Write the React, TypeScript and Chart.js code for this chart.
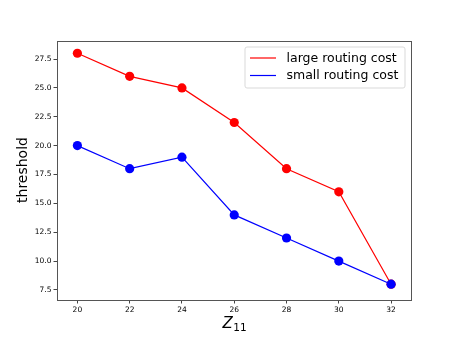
import React, { useEffect, useRef } from "react";
import { Chart, registerables } from "chart.js";

Chart.register(...registerables);

const zValues = [20, 22, 24, 26, 28, 30, 32];
const largeCost = [28, 26, 25, 22, 18, 16, 8];
const smallCost = [20, 18, 19, 14, 12, 10, 8];
const xTicks = [20, 22, 24, 26, 28, 30, 32];
const yTicks = [7.5, 10, 12.5, 15, 17.5, 20, 22.5, 25, 27.5];
const seriesNames = ["large routing cost", "small routing cost"];
const seriesColors = ["#ff0000", "#0000ff"];
const yTitle = "threshold";

const FONT = "'DejaVu Sans', sans-serif";

const decorPlugin = {
  id: "decor",
  afterDraw(chart: any) {
    const ctx = chart.ctx;
    const a = chart.chartArea;
    ctx.save();
    // axes box
    ctx.strokeStyle = "#555";
    ctx.lineWidth = 1;
    ctx.strokeRect(Math.round(a.left) + 0.5, Math.round(a.top) + 0.5, Math.round(a.right - a.left) - 1, Math.round(a.bottom - a.top));

    // legend
    const lx = 245, ly = 47, lw = 160, lh = 41;
    ctx.beginPath();
    const r = 2;
    ctx.moveTo(lx + r, ly);
    ctx.lineTo(lx + lw - r, ly);
    ctx.quadraticCurveTo(lx + lw, ly, lx + lw, ly + r);
    ctx.lineTo(lx + lw, ly + lh - r);
    ctx.quadraticCurveTo(lx + lw, ly + lh, lx + lw - r, ly + lh);
    ctx.lineTo(lx + r, ly + lh);
    ctx.quadraticCurveTo(lx, ly + lh, lx, ly + lh - r);
    ctx.lineTo(lx, ly + r);
    ctx.quadraticCurveTo(lx, ly, lx + r, ly);
    ctx.closePath();
    ctx.fillStyle = "rgba(255,255,255,0.8)";
    ctx.fill();
    ctx.strokeStyle = "#d9d9d9";
    ctx.stroke();
    const rows = [58, 75.5];
    ctx.font = `12.5px ${FONT}`;
    ctx.textBaseline = "middle";
    ctx.textAlign = "left";
    seriesNames.forEach((name, i) => {
      ctx.strokeStyle = seriesColors[i];
      ctx.lineWidth = 1.2;
      ctx.beginPath();
      ctx.moveTo(250, rows[i]);
      ctx.lineTo(276, rows[i]);
      ctx.stroke();
      ctx.fillStyle = "#000";
      ctx.fillText(name, 286.5, rows[i] + 0.5);
    });

    // y title
    ctx.save();
    ctx.translate(23, 170);
    ctx.rotate(-Math.PI / 2);
    ctx.font = `14px ${FONT}`;
    ctx.textAlign = "center";
    ctx.textBaseline = "middle";
    ctx.fillStyle = "#000";
    ctx.fillText(yTitle, 0, 0);
    ctx.restore();

    // x title Z_11
    ctx.fillStyle = "#000";
    ctx.textBaseline = "alphabetic";
    ctx.textAlign = "left";
    ctx.font = `italic 15px ${FONT}`;
    ctx.fillText("Z", 222.5, 328);
    const zw = ctx.measureText("Z").width;
    ctx.font = `10.5px ${FONT}`;
    ctx.fillText("11", 222.5 + zw + 0.5, 331);
    ctx.restore();
  },
};

export default function App() {
  const ref = useRef<HTMLCanvasElement>(null);
  useEffect(() => {
    if (!ref.current) return;
    const mk = (ys: number[]) => zValues.map((x, i) => ({ x, y: ys[i] }));
    const chart = new Chart(ref.current, {
      type: "line",
      data: {
        datasets: [
          {
            label: seriesNames[0],
            data: mk(largeCost),
            borderColor: seriesColors[0],
            backgroundColor: seriesColors[0],
            pointBackgroundColor: seriesColors[0],
            pointBorderWidth: 0,
            pointRadius: 4.6,
            borderWidth: 1.2,
            order: 1,
          },
          {
            label: seriesNames[1],
            data: mk(smallCost),
            borderColor: seriesColors[1],
            backgroundColor: seriesColors[1],
            pointBackgroundColor: seriesColors[1],
            pointBorderWidth: 0,
            pointRadius: 4.6,
            borderWidth: 1.2,
            order: 0,
          },
        ],
      },
      options: {
        animation: false,
        responsive: false,
        devicePixelRatio: 1,
        layout: { padding: { top: 41, right: 45, left: 0, bottom: 0 } },
        plugins: { legend: { display: false }, tooltip: { enabled: false } },
        scales: {
          x: {
            type: "linear",
            min: 19.22,
            max: 32.8,
            afterFit: (s: any) => {
              s.height = 43;
            },
            afterBuildTicks: (s: any) => {
              s.ticks = xTicks.map((v) => ({ value: v }));
            },
            ticks: {
              font: { family: FONT, size: 7.5 },
              color: "#000",
              padding: 2,
              maxRotation: 0,
              callback: (v: any) => String(v),
            },
            grid: {
              drawOnChartArea: false,
              drawTicks: true,
              tickLength: 3.5,
              color: "#444",
            },
            border: { display: false },
          },
          y: {
            type: "linear",
            min: 6.63,
            max: 29.06,
            afterFit: (s: any) => {
              s.width = 57;
            },
            afterBuildTicks: (s: any) => {
              s.ticks = yTicks.map((v) => ({ value: v }));
            },
            ticks: {
              font: { family: FONT, size: 7.5 },
              color: "#000",
              padding: 2,
              callback: (v: any) => Number(v).toFixed(1),
            },
            grid: {
              drawOnChartArea: false,
              drawTicks: true,
              tickLength: 3.5,
              color: "#444",
            },
            border: { display: false },
          },
        },
      },
      plugins: [decorPlugin],
    });
    return () => chart.destroy();
  }, []);
  return (
    <div style={{ position: "absolute", left: 0, top: 0, width: 457, height: 343, background: "#fff" }}>
      <canvas ref={ref} width={457} height={343} style={{ width: 457, height: 343 }} />
    </div>
  );
}
